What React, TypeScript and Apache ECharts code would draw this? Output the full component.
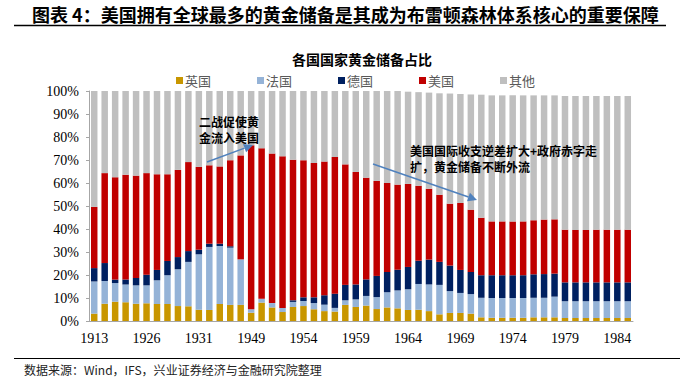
import React, { useEffect, useRef } from "react";
import * as echarts from "echarts";

const years: string[] = [
  "1913", "1922", "1923", "1924", "1925", "1926", "1927", "1928", "1929", "1930",
  "1931", "1932", "1933", "1934", "1935", "1949", "1950", "1951", "1952", "1953",
  "1954", "1955", "1956", "1957", "1958", "1959", "1960", "1961", "1962", "1963",
  "1964", "1965", "1966", "1967", "1968", "1969", "1970", "1971", "1972", "1973",
  "1974", "1975", "1976", "1977", "1978", "1979", "1980", "1981", "1982", "1983",
  "1984", "1985",
];

const uk: number[] = [
  3.2, 7.5, 8.4, 8.1, 7.5, 7.7, 7.4, 7.4, 6.5, 6.4,
  4.9, 4.8, 7.4, 7.0, 7.0, 3.6, 8.0, 5.9, 3.9, 6.1,
  6.5, 5.1, 4.3, 4.1, 7.0, 6.1, 6.7, 5.2, 5.9, 5.5,
  4.8, 4.9, 4.3, 2.9, 3.5, 3.5, 3.2, 1.6, 1.4, 1.4,
  1.4, 1.4, 1.6, 1.6, 1.6, 1.3, 1.3, 1.3, 1.3, 1.3,
  1.3, 1.3,
];

const france: number[] = [
  14.0, 9.9, 8.1, 7.8, 8.0, 7.8, 10.3, 12.5, 16.0, 19.3,
  24.1, 27.4, 25.2, 24.9, 19.8, 1.5, 1.7, 1.9, 1.8, 2.2,
  2.2, 2.7, 2.8, 1.6, 2.0, 3.3, 4.2, 5.2, 6.6, 7.8,
  9.0, 11.2, 11.6, 12.8, 9.5, 8.7, 8.5, 8.5, 8.6, 8.6,
  8.6, 8.6, 8.5, 8.5, 9.0, 7.3, 7.3, 7.3, 7.3, 7.3,
  7.3, 7.3,
];

const germany: number[] = [
  5.8, 7.8, 1.5, 2.1, 3.2, 4.6, 4.5, 6.2, 5.3, 4.7,
  2.0, 1.4, 1.0, 0.6, 0, 0, 0, 0, 0, 0.7,
  1.6, 2.5, 4.1, 6.2, 6.7, 6.5, 7.2, 9.2, 8.8, 9.0,
  9.7, 10.1, 10.8, 10.0, 11.1, 10.0, 9.6, 9.8, 9.9, 9.9,
  9.9, 9.9, 10.2, 10.3, 10.0, 8.2, 8.2, 8.2, 8.2, 8.2,
  8.2, 8.2,
];

const usa: number[] = [
  26.6, 39.1, 44.5, 45.6, 44.5, 44.2, 41.6, 37.7, 37.9, 38.7,
  36.0, 34.1, 33.6, 37.4, 45.2, 71.3, 65.4, 65.0, 65.9, 61.1,
  59.6, 58.4, 58.1, 59.4, 52.4, 48.9, 44.2, 41.3, 38.7, 37.0,
  36.1, 32.6, 30.8, 29.2, 26.9, 29.1, 27.1, 25.0, 23.4, 23.4,
  23.4, 23.4, 23.5, 23.7, 23.6, 22.9, 22.8, 22.8, 22.9, 22.9,
  22.9, 22.9,
];

const others: number[] = [
  50.4, 35.7, 37.5, 36.4, 36.8, 35.7, 36.2, 36.2, 34.3, 30.9,
  33.0, 32.3, 32.8, 30.1, 28.0, 23.6, 24.9, 27.2, 28.4, 29.9,
  30.1, 31.3, 30.7, 28.7, 31.9, 35.2, 37.7, 39.1, 40.0, 40.7,
  40.1, 40.7, 41.8, 44.1, 47.9, 47.4, 50.1, 53.5, 54.8, 54.8,
  54.8, 54.8, 54.3, 54.0, 53.9, 58.1, 58.2, 58.2, 58.1, 58.1,
  58.1, 58.1,
];

const seriesNames: string[] = ["英国", "法国", "德国", "美国", "其他"];
const seriesColors: string[] = ["#C89600", "#95B3D7", "#002060", "#C00000", "#BFBFBF"];

const chartTitle = "各国国家黄金储备占比";
const figureTitle = "图表 4：美国拥有全球最多的黄金储备是其成为布雷顿森林体系核心的重要保障";
const sourceNote = "数据来源：Wind，IFS，兴业证券经济与金融研究院整理";
const note1 = "二战促使黄\n金流入美国";
const note2 = "美国国际收支逆差扩大+政府赤字走\n扩，黄金储备不断外流";

const CJK = '"Noto Sans CJK SC", "Noto Sans", sans-serif';
const SERIF = '"Liberation Serif", "DejaVu Serif", serif';

function arrow(x1: number, y1: number, x2: number, y2: number, color: string) {
  const dx = x2 - x1;
  const dy = y2 - y1;
  const len = Math.sqrt(dx * dx + dy * dy);
  const ux = dx / len;
  const uy = dy / len;
  const hl = 9;
  const hw = 4.5;
  const bx = x2 - ux * hl;
  const by = y2 - uy * hl;
  const px = -uy;
  const py = ux;
  return [
    {
      type: "line",
      z: 100,
      shape: { x1, y1, x2: bx, y2: by },
      style: { stroke: color, lineWidth: 1.5 },
    },
    {
      type: "polygon",
      z: 100,
      shape: {
        points: [
          [x2, y2],
          [bx + px * hw, by + py * hw],
          [bx - px * hw, by - py * hw],
        ],
      },
      style: { fill: color },
    },
  ];
}

export default function App() {
  const ref = useRef<HTMLDivElement>(null);

  useEffect(() => {
    if (!ref.current) return;
    const chart = echarts.init(ref.current, undefined, { renderer: "svg" });
    const data = [uk, france, germany, usa, others];
    const arrowColor = "#4F81BD";

    chart.setOption({
      animation: false,
      backgroundColor: "#ffffff",
      title: {
        text: chartTitle,
        left: 357,
        textAlign: "center",
        top: 47,
        textStyle: { fontFamily: CJK, fontSize: 14, fontWeight: "bold", color: "#000" },
      },
      legend: {
        data: seriesNames,
        left: 171,
        top: 69,
        icon: "rect",
        itemWidth: 7,
        itemHeight: 7,
        itemGap: 46,
        textStyle: { fontFamily: CJK, fontSize: 13, color: "#595959", padding: [0, 0, 0, -3] },
      },
      grid: { left: 89, right: 59, top: 91, bottom: 61, containLabel: false },
      xAxis: {
        type: "category",
        data: years,
        axisLine: { lineStyle: { color: "#A6A6A6" } },
        axisTick: { show: false },
        axisLabel: {
          interval: 4,
          fontFamily: SERIF,
          fontSize: 14,
          color: "#000",
          margin: 10,
        },
      },
      yAxis: {
        type: "value",
        min: 0,
        max: 100,
        interval: 10,
        axisLine: { show: true, lineStyle: { color: "#A6A6A6" } },
        axisTick: { show: true, length: 3, lineStyle: { color: "#A6A6A6" } },
        splitLine: { show: false },
        axisLabel: {
          formatter: "{value}%",
          fontFamily: SERIF,
          fontSize: 14,
          color: "#000",
          margin: 10,
        },
      },
      series: seriesNames.map((name, i) => ({
        name,
        type: "bar",
        stack: "total",
        data: data[i],
        barCategoryGap: "38%",
        itemStyle: { color: seriesColors[i] },
      })),
      graphic: [
        {
          type: "text",
          left: 32,
          top: 5,
          z: 100,
          style: {
            text: figureTitle,
            font: `bold 18px ${CJK}`,
            fill: "#000",
          },
        },
        {
          type: "line",
          z: 100,
          shape: { x1: 14, y1: 25.5, x2: 666, y2: 25.5 },
          style: { stroke: "#000", lineWidth: 1.5 },
        },
        {
          type: "line",
          z: 100,
          shape: { x1: 14, y1: 358.5, x2: 680, y2: 358.5 },
          style: { stroke: "#000", lineWidth: 1.2 },
        },
        {
          type: "text",
          left: 24,
          top: 363,
          z: 100,
          style: {
            text: sourceNote,
            font: `12px ${CJK}`,
            fill: "#222",
          },
        },
        {
          type: "text",
          left: 199,
          top: 113,
          z: 100,
          style: {
            text: note1,
            font: `bold 12px ${CJK}`,
            fill: "#000",
            lineHeight: 16,
          },
        },
        {
          type: "text",
          left: 410,
          top: 142,
          z: 100,
          style: {
            text: note2,
            font: `bold 12px ${CJK}`,
            fill: "#000",
            lineHeight: 16,
          },
        },
        ...arrow(207, 162, 253, 145, arrowColor),
        ...arrow(373, 164, 477, 200, arrowColor),
      ],
    });

    return () => chart.dispose();
  }, []);

  return (
    <div
      ref={ref}
      style={{ position: "absolute", left: 0, top: 0, width: 692, height: 382 }}
    />
  );
}
